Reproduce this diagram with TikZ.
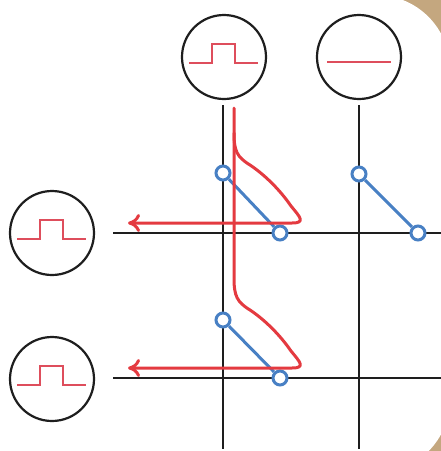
\documentclass[tikz,border=0pt]{standalone}
\usetikzlibrary{arrows.meta,calc}
\definecolor{bgtan}{RGB}{196,167,127}
\definecolor{wred}{RGB}{228,58,64}
\definecolor{pulsered}{RGB}{222,78,92}
\definecolor{sblue}{RGB}{72,128,196}
\definecolor{gridk}{RGB}{30,30,30}
\tikzset{
  bigcirc/.style={circle, draw=gridk, line width=2.2pt, minimum size=84pt, inner sep=0pt},
  swnode/.style={circle, draw=sblue, fill=white, line width=3pt, minimum size=14pt, inner sep=0pt},
  gridwire/.style={draw=gridk, line width=2.2pt},
  pulseline/.style={draw=pulsered, line width=2pt, line join=miter},
  redsig/.style={draw=wred, line width=3pt, line join=round, line cap=round},
  redarrow/.style={redsig, -{Computer Modern Rightarrow[length=12pt,width=18pt]}},
  swline/.style={draw=sblue, line width=3pt}
}
\begin{document}
\begin{tikzpicture}[x=1pt,y=-1pt]
\useasboundingbox (0,0) rectangle (441,451);
% background
\fill[bgtan] (0,0) rectangle (441,451);
\fill[white, rounded corners=74pt] (-200,-5) rectangle (450,473);

% big circles
\node[bigcirc] (in1) at (224,57) {};
\node[bigcirc] (in2) at (359,57) {};
\node[bigcirc] (out1) at (52,233) {};
\node[bigcirc] (out2) at (52,379) {};

% waveforms
\draw[pulseline, shift={(in1.center)}] (-35,6) -- (-12,6) -- (-12,-13) -- (11,-13) -- (11,6) -- (34,6);
\draw[pulseline, shift={(in2.center)}] (-32,5) -- (32,5);
\draw[pulseline, shift={(out1.center)}] (-35,6) -- (-12,6) -- (-12,-13) -- (11,-13) -- (11,6) -- (34,6);
\draw[pulseline, shift={(out2.center)}] (-35,6) -- (-12,6) -- (-12,-13) -- (11,-13) -- (11,6) -- (34,6);

% grid wires
\coordinate (c1top) at (223,105);
\coordinate (c1bot) at (223,449);
\coordinate (c2top) at (359,105);
\coordinate (c2bot) at (359,449);
\coordinate (r1left) at (113,233);
\coordinate (r1right) at (441,233);
\coordinate (r2left) at (113,378);
\coordinate (r2right) at (441,378);
\draw[gridwire] (c1top) -- (c1bot);
\draw[gridwire] (c2top) -- (c2bot);
\draw[gridwire] (r1left) -- (r1right);
\draw[gridwire] (r2left) -- (r2right);

% switches
\node[swnode] (s11a) at (223,173) {};
\node[swnode] (s11b) at (280,233) {};
\node[swnode] (s12a) at (359,174) {};
\node[swnode] (s12b) at (418,233) {};
\node[swnode] (s21a) at (223,320) {};
\node[swnode] (s21b) at (280,378) {};
\draw[swline] (s11a) -- (s11b);
\draw[swline] (s12a) -- (s12b);
\draw[swline] (s21a) -- (s21b);

% red signal
\coordinate (rstart) at (234,108);
\coordinate (rbranch) at (234,133);
\coordinate (rbend) at (234,278);
\coordinate (rtip1) at (128,223);
\coordinate (rtip2) at (128,368);
\draw[redarrow] (rstart) -- (rbend)
  .. controls (234,296) and (237,302) .. (250,310)
  .. controls (265,320) and (280,335) .. (291,351)
  .. controls (300,362) and (306,368) .. (292,368) -- (rtip2);
\draw[redarrow] (rbranch)
  .. controls (234,151) and (237,157) .. (250,165)
  .. controls (265,175) and (280,190) .. (291,206)
  .. controls (300,217) and (306,223) .. (292,223) -- (rtip1);
\end{tikzpicture}
\end{document}
